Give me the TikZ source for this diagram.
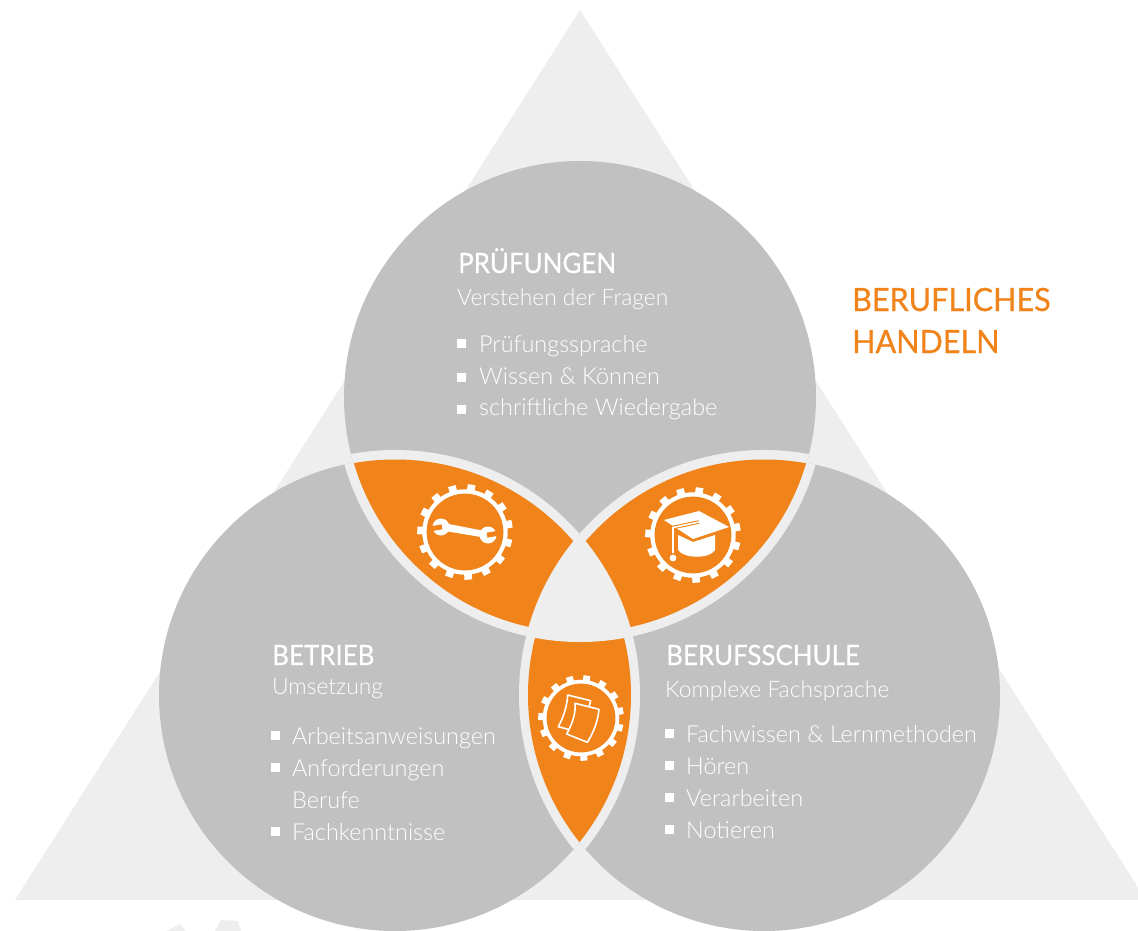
\documentclass[tikz,border=0pt]{standalone}
\usepackage{fontspec}
\setmainfont{Lato Light}
\newfontfamily\headfont[FakeStretch=0.925,FakeBold=0.5]{Lato}
\newfontfamily\titlefont[FakeStretch=0.955,FakeBold=0.6]{Lato}
\definecolor{paleback}{HTML}{EEEEEE}
\definecolor{discgray}{HTML}{C1C1C1}
\definecolor{brandorange}{HTML}{F0831A}
\tikzset{
  x=1pt,y=-1pt,
  head/.style={anchor=base west,inner sep=0pt,text=white,font=\headfont\fontsize{28}{28}\selectfont},
  sub/.style={anchor=base west,inner sep=0pt,text=white,font=\fontsize{22.8}{24}\selectfont},
  item/.style={anchor=base west,inner sep=0pt,text=white,font=\fontsize{23.4}{24}\selectfont},
  title/.style={anchor=base west,inner sep=0pt,text=brandorange,font=\titlefont\fontsize{32}{32}\selectfont},
  bulletmark/.style={fill=white,draw=none},
  tooth/.style={draw=white,line width=#1,line cap=butt},
  iconline/.style={draw=white,line width=1.6,fill=brandorange,line join=round}
}
\newcommand\bulletat[2]{\fill[bulletmark] (#1-4.5,#2-4.5) rectangle (#1+4.5,#2+4.5);}
\newcommand\gearicon[3]{%
  \begin{scope}[shift={(#1,#2)}]
    \foreach \a in {-82,-58,...,254}{\draw[tooth=#3*0.16] (\a:#3*0.85) -- (\a:#3*0.995);}
    \fill[white] (0,0) circle[radius=#3*0.89];
    \fill[brandorange] (0,0) circle[radius=#3*0.80];
  \end{scope}}
\begin{document}
\begin{tikzpicture}
\useasboundingbox (0,0) rectangle (1138,931);
\clip (0,0) rectangle (1138,931);
\fill[white] (0,0) rectangle (1138,931);
% background triangle
\fill[paleback] (580,10) -- (1146,900) -- (15,900) -- cycle;
% faint fragments under the base
\fill[paleback] (166,931) -- (180,924) -- (186,931) -- cycle;
\fill[paleback] (215,931) -- (221,920) -- (238,921) -- (241,931) -- cycle;
% discs
\coordinate (T) at (580,397);
\coordinate (L) at (395,695);
\coordinate (R) at (764,695);
\foreach \c in {T,L,R}{\fill[discgray] (\c) circle[radius=236];}
% bands in the overlaps
\foreach \a/\b in {T/L,T/R,L/T,L/R,R/T,R/L}{
  \begin{scope}
    \clip (\b) circle[radius=236];
    \fill[paleback] (\a) circle[radius=245];
  \end{scope}}
% orange lenses
\foreach \a/\b/\r in {T/L/235.5,T/R/235.5,L/R/236}{
  \begin{scope}
    \clip (\a) circle[radius=\r];
    \clip (\b) circle[radius=\r];
    \fill[brandorange] (0,0) rectangle (1138,931);
  \end{scope}}
% pale centre over the lenses
\foreach \a/\b/\c in {T/L/R,T/R/L,L/R/T}{
  \begin{scope}
    \clip (\a) circle[radius=238];
    \clip (\b) circle[radius=238];
    \fill[paleback] (\c) circle[radius=245];
  \end{scope}}
% gears
\gearicon{465}{532}{48}
\gearicon{693}{535}{48}
\gearicon{581}{718}{43}
% wrench
\fill[white] (446,523.5) -- (482,530.5) -- (481,537) -- (445,531) -- cycle;
\fill[white] (441,527) circle[radius=8.5];
\fill[white] (488,535) circle[radius=8.5];
\fill[brandorange,rotate around={10:(441,527)}] (431,524.5) rectangle (442,529.5);
\fill[brandorange,rotate around={10:(488,535)}] (487,532.5) rectangle (498,537.5);
% cap
\fill[white] (678,535) -- (693,542) -- (715,535) -- (715,550) .. controls (710,559) and (684,559) .. (678,550) -- cycle;
\fill[white] (664,520) -- (699,511) -- (729,527) -- (693,539) -- cycle;
\draw[brandorange,line width=3.6] (699,522) -- (673,527.5) -- (673,553);
\draw[white,line width=1.6] (699,522) -- (673,527.5) -- (673,553);
\fill[white] (673,558) circle[radius=3.4];
% papers
\draw[iconline] (567.7,695) -- (590.7,700.7) -- (581.7,733) -- (558.3,726.7) .. controls (564,716) and (567,706) .. cycle;
\draw[iconline] (575,703.3) -- (599,709.3) .. controls (598,720) and (594,732) .. (587.3,742.3) -- (566.7,734) .. controls (572,724) and (576,714) .. cycle;
% top disc text
\node[head] (h1) at (458,273) {PRÜFUNGEN};
\node[sub] (s1) at (457,305) {Verstehen der Fragen};
\bulletat{461.5}{343}\node[item] (i11) at (479,352) {Prüfungssprache};
\bulletat{461.5}{377}\node[item] (i12) at (479,384) {Wissen \& Können};
\bulletat{461.5}{409}\node[item] (i13) at (479,415) {schriftliche Wiedergabe};
% left disc text
\node[head] (h2) at (272,665) {BETRIEB};
\node[sub] (s2) at (272,694) {Umsetzung};
\bulletat{275.5}{735}\node[item] (i21) at (292,744) {Arbeitsanweisungen};
\bulletat{275.5}{767}\node[item] (i22) at (292,776) {Anforderungen};
\node[item] (i23) at (292,808) {Berufe};
\bulletat{275.5}{831}\node[item] (i24) at (292,840) {Fachkenntnisse};
% right disc text
\node[head] (h3) at (666,665) {BERUFSSCHULE};
\node[sub] (s3) at (665,697) {Komplexe Fachsprache};
\bulletat{669.5}{733}\node[item] (i31) at (686,742) {Fachwissen \& Lernmethoden};
\bulletat{669.5}{765}\node[item] (i32) at (686,774) {Hören};
\bulletat{669.5}{797}\node[item] (i33) at (686,806) {Verarbeiten};
\bulletat{669.5}{829}\node[item] (i34) at (686,838) {Notieren};
% title
\node[title] (t1) at (852,311) {BERUFLICHES};
\node[title] (t2) at (852,353) {HANDELN};
\end{tikzpicture}
\end{document}
